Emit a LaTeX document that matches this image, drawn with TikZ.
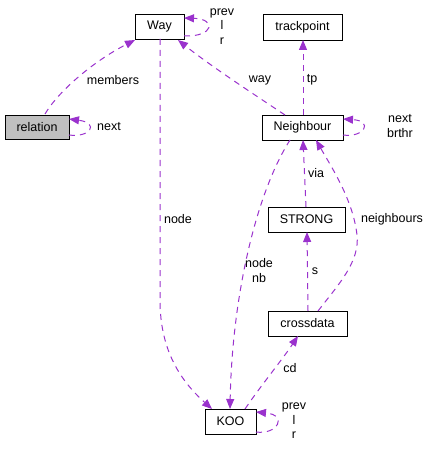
\documentclass[tikz,border=0pt]{standalone}
\usepackage{fontspec}
\setmainfont{Liberation Sans}
\usetikzlibrary{arrows.meta}
\definecolor{edgec}{HTML}{9A32CD}
\definecolor{relfill}{HTML}{BFBFBF}
\begin{document}
\begin{tikzpicture}[x=1pt,y=-1pt,
  every node/.style={font=\fontsize{12.5}{14}\selectfont, inner sep=0pt},
  cls/.style={draw=black, line width=0.9pt, fill=white},
  rel/.style={draw=edgec, line width=1pt, dash pattern=on 6pt off 5pt, -{Triangle[length=10pt,width=8pt,fill=edgec]}},
  lbl/.style={align=center, font=\fontsize{12.5}{14.5}\selectfont}
]
\useasboundingbox (0,0) rectangle (431,449);
% nodes
\node[cls, minimum width=49pt, minimum height=25pt] (way) at (159.5,26.5) {Way};
\node[cls, fill=relfill, minimum width=64pt, minimum height=24pt] (relation) at (37,127) {relation};
\node[cls, minimum width=79pt, minimum height=26pt] (trackpoint) at (302.5,27) {trackpoint};
\node[cls, minimum width=81pt, minimum height=25pt] (neighbour) at (302.5,127.5) {Neighbour};
\node[cls, minimum width=77pt, minimum height=25pt] (strong) at (306.5,219.5) {STRONG};
\node[cls, minimum width=79pt, minimum height=25pt] (crossdata) at (307.5,323.5) {crossdata};
\node[cls, minimum width=51pt, minimum height=25pt] (koo) at (230.5,421.5) {KOO};
% coordinates on boxes
\coordinate (relTop) at (45,114);
\coordinate (relLoopA) at (69,135);
\coordinate (relLoopB) at (69,119);
\coordinate (wayLoopA) at (184,36);
\coordinate (wayLoopB) at (184,18);
\coordinate (wayBL) at (135,40);
\coordinate (wayBR) at (178,40);
\coordinate (wayB) at (160,39);
\coordinate (tpB) at (303,40);
\coordinate (nbT) at (303,115);
\coordinate (nbTL) at (285,115);
\coordinate (nbB) at (303,140);
\coordinate (nbBL) at (290,140);
\coordinate (nbBR) at (316,140);
\coordinate (nbLoopA) at (343,135);
\coordinate (nbLoopB) at (343,119);
\coordinate (stT) at (306,207);
\coordinate (stB) at (307,232);
\coordinate (cdT) at (308,311);
\coordinate (cdTR) at (318,311);
\coordinate (cdB) at (298,336);
\coordinate (kooTL) at (212,409);
\coordinate (kooT) at (230,409);
\coordinate (kooTR) at (245,409);
\coordinate (kooLoopA) at (256,432);
\coordinate (kooLoopB) at (256,412);
% edges
\draw[rel] (relTop) .. controls (58,92) and (92,62) .. (wayBL);
\draw[rel] (relLoopA) .. controls (90,138) and (100,123) .. (relLoopB);
\draw[rel] (wayLoopA) .. controls (214,37) and (217,19) .. (wayLoopB);
\draw[rel] (nbTL) .. controls (258,97) and (212,67) .. (wayBR);
\draw[rel] (nbT) -- (tpB);
\draw[rel] (nbLoopA) .. controls (364,138) and (374,121) .. (nbLoopB);
\draw[rel] (stT) -- (nbB);
\draw[rel] (cdT) -- (stB);
\draw[rel] (cdTR) .. controls (338,285) and (360,262) .. (357,235) .. controls (353,200) and (332,168) .. (nbBR);
\draw[rel] (nbBL) .. controls (255,195) and (232,300) .. (kooT);
\draw[rel] (wayB) -- (160,300) .. controls (160,352) and (182,382) .. (kooTL);
\draw[rel] (kooTR) .. controls (262,384) and (282,360) .. (cdB);
\draw[rel] (kooLoopA) .. controls (278,435) and (288,415) .. (kooLoopB);
% labels
\node[lbl] (lmembers) at (113,80) {members};
\node[lbl] (lnext1) at (109,127) {next};
\node[lbl] (lway1) at (222,26.5) {prev\\l\\r};
\node[lbl] (lnode) at (178,219) {node};
\node[lbl] (lway) at (260,80) {way};
\node[lbl] (ltp) at (312,80) {tp};
\node[lbl] (lnb) at (400,126) {next\\brthr};
\node[lbl] (lvia) at (316,173) {via};
\node[lbl] (lneigh) at (392,219) {neighbours};
\node[lbl] (lnodenb) at (259,270.5) {node\\nb};
\node[lbl] (ls) at (315,271) {s};
\node[lbl] (lcd) at (290,368) {cd};
\node[lbl] (lkoo) at (294,421) {prev\\l\\r};
\end{tikzpicture}
\end{document}
